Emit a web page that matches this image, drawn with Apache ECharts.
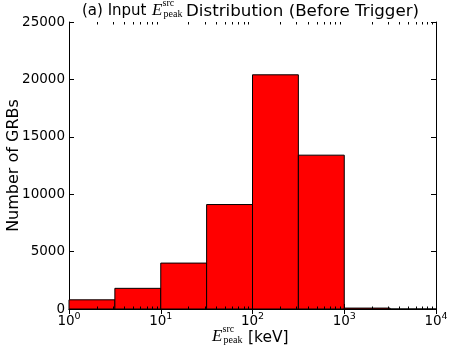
<!DOCTYPE html>
<html>
<head>
<meta charset="utf-8">
<script src="https://cdn.jsdelivr.net/npm/echarts@6/dist/echarts.min.js"></script>
<style>
html, body { margin: 0; padding: 0; background: #fff; }
#container { width: 457px; height: 358px; }
</style>
</head>
<body>
<div id="container"></div>
<script>
var binEdges = [1, 3.162, 10, 31.62, 100, 316.2, 1000, 3162, 10000];
var counts = [800, 1800, 4000, 9100, 20400, 13400, 80, 0];
var yTicks = [0, 5000, 10000, 15000, 20000, 25000];
var minorTicks = [];
for (var k = 0; k < 4; k++) {
	for (var m = 2; m < 10; m++) {
		minorTicks.push(m * Math.pow(10, k));
	}
}

var bars = [];
for (var i = 0; i < counts.length; i++) {
	bars.push([binEdges[i], binEdges[i + 1], counts[i]]);
}

var font = 'DejaVu Sans';
var mathFont = 'Liberation Serif';

function renderBar(params, api) {
	var p0 = api.coord([api.value(0), api.value(2)]);
	var p1 = api.coord([api.value(1), 0]);
	return {
		type : 'rect',
		shape : { x : p0[0], y : p0[1], width : p1[0] - p0[0], height : p1[1] - p0[1] },
		style : { fill : '#ff0000', stroke : '#000', lineWidth : 1 }
	};
}

function renderMinor(params, api) {
	var b = api.coord([api.value(0), 0]);
	var t = api.coord([api.value(0), 25000]);
	var x = Math.round(b[0]) + 0.5;
	return {
		type : 'group',
		children : [
			{ type : 'line', shape : { x1 : x, y1 : b[1], x2 : x, y2 : b[1] - 2.5 }, style : { stroke : '#000', lineWidth : 1 } },
			{ type : 'line', shape : { x1 : x, y1 : t[1], x2 : x, y2 : t[1] + 2.5 }, style : { stroke : '#000', lineWidth : 1 } }
		]
	};
}

// E^src_peak pieces, placed by hand
function mathLabel(x, y) {
	return [
		{ type : 'text', left : x, top : y, style : { text : 'E', font : 'italic 17px ' + mathFont, fill : '#000' } },
		{ type : 'text', left : x + 10.5, top : y - 4, style : { text : 'src', font : '10px ' + mathFont, fill : '#000' } },
		{ type : 'text', left : x + 11.5, top : y + 7, style : { text : 'peak', font : '10px ' + mathFont, fill : '#000' } }
	];
}

var myChart = echarts.init(document.getElementById('container'));

var graphics = [
	{ type : 'text', left : 82, top : 4, style : { text : '(a) Input', font : '15px ' + font, fill : '#000' } },
	{ type : 'text', left : 186, top : 3, style : { text : 'Distribution (Before Trigger)', font : '16.7px ' + font, fill : '#000' } },
	{ type : 'text', left : 248, top : 330, style : { text : '[keV]', font : '15.5px ' + font, fill : '#000' } }
].concat(mathLabel(152, 2), mathLabel(212, 328));

myChart.setOption({
	animation : false,
	grid : { left : 69, right : 21, top : 22, bottom : 49, containLabel : false, outerBoundsMode : 'none' },
	graphic : graphics,
	xAxis : [ {
		type : 'log',
		logBase : 10,
		min : 1,
		max : 10000,
		position : 'bottom',
		axisLine : { lineStyle : { color : '#000', width : 1 } },
		axisTick : { inside : true, length : 5, lineStyle : { color : '#000' } },
		splitLine : { show : false },
		axisLabel : {
			margin : 3,
			color : '#000',
			formatter : function(v) {
				return '{b|10}{s|' + Math.round(Math.log10(v)) + '}';
			},
			rich : {
				b : { fontFamily : font, fontSize : 13.5, color : '#000' },
				s : { fontFamily : font, fontSize : 9.5, color : '#000', verticalAlign : 'bottom', padding : [0, 0, 8, 0] }
			}
		}
	}, {
		type : 'log',
		logBase : 10,
		min : 1,
		max : 10000,
		position : 'top',
		axisLine : { lineStyle : { color : '#000', width : 1 } },
		axisTick : { inside : true, length : 5, lineStyle : { color : '#000' } },
		axisLabel : { show : false },
		splitLine : { show : false }
	} ],
	yAxis : [ {
		type : 'value',
		min : yTicks[0],
		max : yTicks[yTicks.length - 1],
		interval : 5000,
		name : 'Number of GRBs',
		nameLocation : 'middle',
		nameGap : 47,
		nameMoveOverlap : false,
		nameTextStyle : { fontFamily : font, fontSize : 16, color : '#000' },
		axisLine : { show : true, lineStyle : { color : '#000', width : 1 } },
		axisTick : { show : true, inside : true, length : 5, lineStyle : { color : '#000' } },
		splitLine : { show : false },
		axisLabel : {
			fontFamily : font, fontSize : 13.5, color : '#000', margin : 4,
			formatter : function(v) { return String(v); }
		}
	}, {
		type : 'value',
		min : yTicks[0],
		max : yTicks[yTicks.length - 1],
		interval : 5000,
		position : 'right',
		axisLine : { show : true, lineStyle : { color : '#000', width : 1 } },
		axisTick : { show : true, inside : true, length : 5, lineStyle : { color : '#000' } },
		splitLine : { show : false },
		axisLabel : { show : false }
	} ],
	series : [ {
		type : 'custom',
		renderItem : renderBar,
		encode : { x : [0, 1], y : 2 },
		data : bars
	}, {
		type : 'custom',
		renderItem : renderMinor,
		encode : { x : 0 },
		data : minorTicks,
		z : 5
	} ]
});
</script>
</body>
</html>
